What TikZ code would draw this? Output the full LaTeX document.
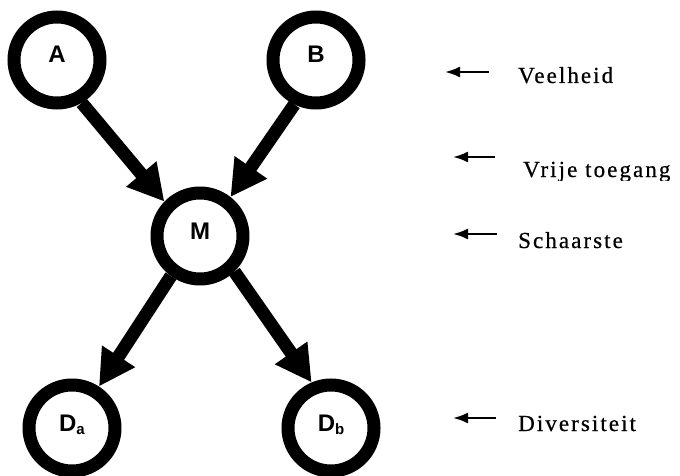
\documentclass[tikz,border=0pt]{standalone}
\usepackage{fontspec}
\setmainfont{Liberation Serif}
\newfontfamily\nodefont{Liberation Sans}
\newfontfamily\labelfont[LetterSpace=9,FakeBold=0.6]{Liberation Serif}
\usetikzlibrary{arrows.meta}
\begin{document}
\begin{tikzpicture}[x=1pt,y=1pt,
  ring/.style={circle,draw=black,line width=13pt,minimum size=86pt,inner sep=0pt,
    font=\nodefont\bfseries\fontsize{24}{24}\selectfont,text height=14pt,text depth=8pt},
  bigarrow/.style={line width=13pt,-{Triangle[length=36pt,width=37pt]}},
  smallarrow/.style={line width=2.2pt,{Latex[length=15pt,width=11pt]}-},
  lbl/.style={anchor=base west,inner sep=0pt,
    font=\labelfont\fontsize{23}{23}\selectfont}
]
\useasboundingbox (0,0) rectangle (680,-476);
\fill[white] (0,0) rectangle (680,-476);

\node[ring] (A) at (57,-60) {A};
\node[ring] (B) at (316,-60) {B};
\node[ring] (M) at (200,-236) {M};
\node[ring] (Da) at (72,-428) {D\raisebox{-3pt}{\fontsize{15}{15}\selectfont a}};
\node[ring] (Db) at (331,-428) {D\raisebox{-3pt}{\fontsize{15}{15}\selectfont b}};

\draw[bigarrow] (A.-60) -- (M.136);
\draw[bigarrow] (B.-116) -- (M.52);
\draw[bigarrow] (M.-126) -- (Da.57);
\draw[bigarrow] (M.-46) -- (Db.113);

\node[lbl] (veel) at (518,-83) {Veelheid};
\begin{scope}
  \clip (500,-140) rectangle (680,-180);
  \node[lbl] (vrij) at (523,-177) {Vrije toegang};
\end{scope}
\node[lbl] (schaar) at (518,-248) {Schaarste};
\node[lbl] (div) at (518,-431) {Diversiteit};

\coordinate (h1) at (445,-72);  \coordinate (t1) at (489,-72);
\coordinate (h2) at (453,-157); \coordinate (t2) at (495,-157);
\coordinate (h3) at (453,-234); \coordinate (t3) at (497,-234);
\coordinate (h4) at (453,-418); \coordinate (t4) at (496,-418);
\draw[smallarrow] (h1) -- (t1);
\draw[smallarrow] (h2) -- (t2);
\draw[smallarrow] (h3) -- (t3);
\draw[smallarrow] (h4) -- (t4);
\end{tikzpicture}
\end{document}
